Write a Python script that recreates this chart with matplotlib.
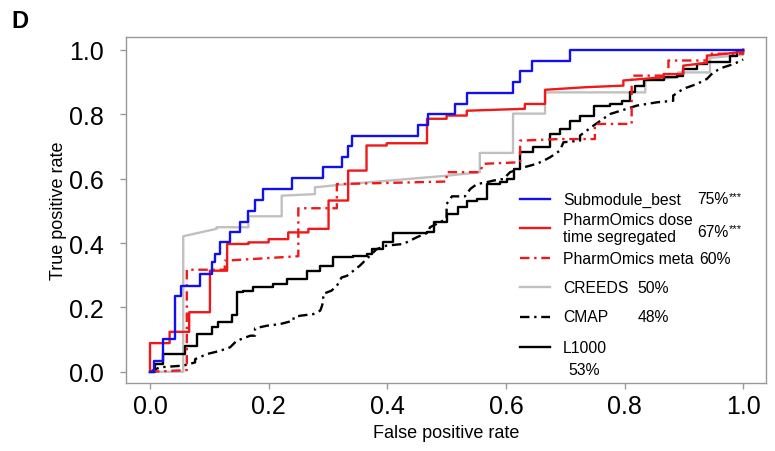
import matplotlib
matplotlib.use("Agg")
import matplotlib.pyplot as plt

plt.rcParams['font.family'] = ['Liberation Sans', 'DejaVu Sans']

# Submodule_best (step points, value after jump)
sub_fpr = [0, 0.006, 0.022, 0.042, 0.053, 0.084, 0.104, 0.110, 0.118, 0.135, 0.152, 0.166,
           0.177, 0.190, 0.239, 0.292, 0.323, 0.334, 0.340, 0.452, 0.469, 0.514, 0.535,
           0.612, 0.624, 0.644, 0.708, 1.0]
sub_tpr = [0, 0.034, 0.102, 0.236, 0.267, 0.304, 0.340, 0.366, 0.402, 0.433, 0.466, 0.500,
           0.534, 0.568, 0.601, 0.635, 0.668, 0.701, 0.734, 0.768, 0.801, 0.833, 0.867,
           0.900, 0.933, 0.967, 1.0, 1.0]

# PharmOmics dose/time segregated (vertices)
seg_fpr = [0, 0, 0.033, 0.033, 0.066, 0.066, 0.101, 0.101, 0.130, 0.130, 0.166, 0.166, 0.200,
           0.200, 0.233, 0.233, 0.267, 0.267, 0.301, 0.301, 0.334, 0.334, 0.365, 0.365, 0.399,
           0.399, 0.467, 0.467, 0.500, 0.500, 0.534, 0.534, 0.632, 0.632, 0.666, 0.666, 0.734,
           0.798, 0.798, 0.866, 0.866, 0.899, 0.899, 0.939, 0.939, 0.972, 1.0, 1.0]
seg_tpr = [0, 0.089, 0.089, 0.124, 0.124, 0.185, 0.185, 0.314, 0.314, 0.397, 0.397, 0.402, 0.402,
           0.412, 0.412, 0.433, 0.433, 0.444, 0.444, 0.532, 0.532, 0.625, 0.625, 0.703, 0.703,
           0.710, 0.710, 0.786, 0.786, 0.796, 0.796, 0.811, 0.817, 0.832, 0.832, 0.876, 0.884,
           0.889, 0.905, 0.915, 0.925, 0.925, 0.951, 0.960, 0.982, 0.988, 0.995, 1.0]

# PharmOmics meta (vertices)
meta_fpr = [0, 0.062, 0.062, 0.126, 0.126, 0.250, 0.250, 0.315, 0.315, 0.500, 0.500, 0.556,
            0.562, 0.624, 0.624, 0.691, 0.750, 0.750, 0.812, 0.812, 0.874, 0.874, 0.939,
            0.939, 1.0, 1.0]
meta_tpr = [0, 0.005, 0.317, 0.317, 0.345, 0.359, 0.508, 0.508, 0.583, 0.591, 0.620, 0.620,
            0.646, 0.651, 0.718, 0.723, 0.723, 0.770, 0.770, 0.920, 0.920, 0.967, 0.967,
            0.988, 0.988, 1.0]

# CREEDS (vertices)
creeds_fpr = [0, 0.056, 0.056, 0.112, 0.112, 0.166, 0.166, 0.222, 0.222, 0.278, 0.278, 0.332,
              0.500, 0.556, 0.556, 0.612, 0.612, 0.666, 0.666, 0.835, 0.835, 0.890, 0.890,
              0.944, 0.944, 1.0, 1.0]
creeds_tpr = [0, 0, 0.421, 0.444, 0.449, 0.449, 0.483, 0.483, 0.547, 0.552, 0.573, 0.583,
              0.609, 0.620, 0.680, 0.680, 0.802, 0.802, 0.868, 0.868, 0.905, 0.915, 0.930,
              0.930, 0.975, 0.985, 1.0]

# CMAP (vertices)
cmap_fpr = [0, 0.017, 0.056, 0.076, 0.076, 0.096, 0.118, 0.135, 0.146, 0.169, 0.177, 0.177,
            0.197, 0.219, 0.242, 0.242, 0.253, 0.275, 0.287, 0.290, 0.292, 0.292, 0.306, 0.315,
            0.323, 0.332, 0.343, 0.354, 0.371, 0.382, 0.399, 0.427, 0.450, 0.469, 0.472, 0.500,
            0.500, 0.509, 0.531, 0.540, 0.551, 0.568, 0.579, 0.596, 0.607, 0.630, 0.652, 0.664,
            0.675, 0.691, 0.697, 0.725, 0.725, 0.748, 0.764, 0.776, 0.804, 0.821, 0.854, 0.882,
            0.882, 0.899, 0.922, 0.939, 0.950, 0.967, 0.984, 1.0]
cmap_tpr = [0, 0.014, 0.019, 0.029, 0.039, 0.055, 0.065, 0.076, 0.096, 0.112, 0.112, 0.135,
            0.143, 0.148, 0.159, 0.169, 0.174, 0.179, 0.190, 0.205, 0.221, 0.242, 0.252, 0.267,
            0.293, 0.298, 0.314, 0.330, 0.361, 0.381, 0.392, 0.397, 0.418, 0.433, 0.449, 0.475,
            0.521, 0.545, 0.545, 0.568, 0.583, 0.589, 0.594, 0.599, 0.620, 0.635, 0.646, 0.656,
            0.667, 0.687, 0.713, 0.718, 0.734, 0.765, 0.786, 0.801, 0.817, 0.827, 0.837, 0.842,
            0.858, 0.879, 0.894, 0.910, 0.931, 0.946, 0.956, 0.970]

# L1000 (step points, value after jump)
l1000_fpr = [0, 0.008, 0.022, 0.059, 0.079, 0.104, 0.115, 0.138, 0.146, 0.157, 0.174, 0.208,
             0.231, 0.264, 0.287, 0.309, 0.343, 0.365, 0.374, 0.393, 0.410, 0.467, 0.478,
             0.500, 0.520, 0.534, 0.551, 0.568, 0.590, 0.602, 0.613, 0.624, 0.646, 0.675,
             0.691, 0.708, 0.725, 0.748, 0.776, 0.795, 0.809, 0.818, 0.832, 0.866, 0.888,
             0.899, 0.922, 0.939, 0.978, 0.989, 1.0]
l1000_tpr = [0, 0.024, 0.055, 0.081, 0.117, 0.138, 0.154, 0.176, 0.247, 0.252, 0.262, 0.273,
             0.288, 0.314, 0.330, 0.356, 0.361, 0.366, 0.381, 0.402, 0.430, 0.433, 0.464,
             0.490, 0.511, 0.532, 0.537, 0.583, 0.590, 0.599, 0.630, 0.682, 0.698, 0.739,
             0.754, 0.780, 0.796, 0.827, 0.832, 0.842, 0.868, 0.889, 0.905, 0.915, 0.920,
             0.941, 0.956, 0.962, 0.982, 0.998, 1.0]

ticks = [0.0, 0.2, 0.4, 0.6, 0.8, 1.0]
tick_labels = ['0.0', '0.2', '0.4', '0.6', '0.8', '1.0']

RED = '#f01818'
BLUE = '#1010f0'
GREY = '#c0c0c0'
DASHDOT = (0, (4, 2, 1, 2))

fig = plt.figure(figsize=(7.75, 4.52), dpi=100)
ax = fig.add_axes([0.1622, 0.1504, 0.8258, 0.7655])

lw = 1.7
ax.plot(creeds_fpr, creeds_tpr, color=GREY, lw=lw)
ax.plot(cmap_fpr, cmap_tpr, color='black', lw=lw, linestyle=DASHDOT)
ax.plot(l1000_fpr, l1000_tpr, color='black', lw=lw, drawstyle='steps-post')
ax.plot(meta_fpr, meta_tpr, color=RED, lw=lw, linestyle=DASHDOT)
ax.plot(seg_fpr, seg_tpr, color=RED, lw=lw)
ax.plot(sub_fpr, sub_tpr, color=BLUE, lw=lw, drawstyle='steps-post')

ax.set_xlim(-0.041, 1.038)
ax.set_ylim(-0.035, 1.040)
ax.set_xticks(ticks)
ax.set_xticklabels(tick_labels)
ax.set_yticks(ticks)
ax.set_yticklabels(tick_labels)
ax.tick_params(axis='both', labelsize=18, length=4, width=1, color='#999999')
ax.tick_params(axis='y', pad=12)
ax.tick_params(axis='x', pad=4)
for s in ax.spines.values():
    s.set_color('#999999')
    s.set_linewidth(1)

ax.set_xlabel('False positive rate', fontsize=13, labelpad=4)
ax.set_ylabel('True positive rate', fontsize=13, labelpad=1)

# hand-placed legend
legend_rows = [
    (0.532, BLUE, '-', 'Submodule_best'),
    (0.448, RED, '-', 'PharmOmics dose\ntime segregated'),
    (0.361, RED, DASHDOT, 'PharmOmics meta'),
    (0.277, GREY, '-', 'CREEDS'),
    (0.191, 'black', DASHDOT, 'CMAP'),
    (0.104, 'black', '-', 'L1000'),
]
for y, c, ls, name in legend_rows:
    ax.plot([0.616, 0.663], [y, y], color=c, lw=lw, linestyle=ls, transform=ax.transAxes)
    ax.text(0.683, y, name, transform=ax.transAxes, fontsize=11.3, va='center', ha='left',
            linespacing=1.1)

pct = [(0.893, 0.532, '75%', True), (0.893, 0.439, '67%', True), (0.896, 0.361, '60%', False),
       (0.800, 0.277, '50%', False), (0.800, 0.193, '48%', False), (0.691, 0.038, '53%', False)]
for x, y, t, star in pct:
    tx = ax.text(x, y, t, transform=ax.transAxes, fontsize=11.3, va='center', ha='left')
    if star:
        ax.annotate('***', xy=(1.0, 1.05), xycoords=tx, fontsize=8, va='top', ha='left')

fig.text(0.015, 0.952, 'D', fontsize=17, fontweight='bold', va='center', ha='left')

fig.savefig('out.png', dpi=100)
